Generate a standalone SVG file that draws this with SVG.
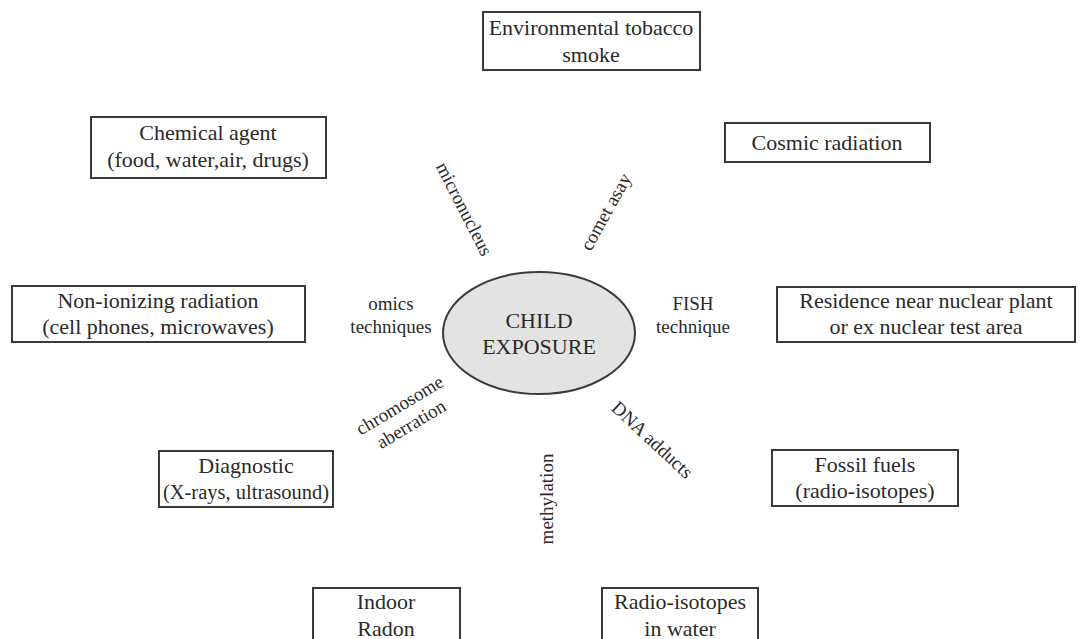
<svg xmlns="http://www.w3.org/2000/svg" width="1086" height="639" viewBox="0 0 1086 639">
<style>
.box{fill:#fff;stroke:#3a3a3a;stroke-width:2}
.t{font-family:"Liberation Serif","Times New Roman",serif;font-size:22px;fill:#2a2a2a;text-anchor:middle}
.l{font-family:"Liberation Serif","Times New Roman",serif;font-size:19px;fill:#2a2a2a;text-anchor:middle}
</style>
<rect width="1086" height="639" fill="#fff"/>
<g id="center">
<ellipse cx="539" cy="333" rx="96" ry="61" fill="#e3e3e3" stroke="#3a3a3a" stroke-width="2"/>
<text class="t" x="539" y="328">CHILD</text>
<text class="t" x="539" y="354">EXPOSURE</text>
</g>
<g id="n-tobacco"><rect class="box" x="483" y="12" width="217" height="58"/><text class="t" x="591" y="35">Environmental tobacco</text><text class="t" x="591" y="62">smoke</text></g>
<g id="n-chemical"><rect class="box" x="91" y="117" width="235" height="61"/><text class="t" x="208" y="140">Chemical agent</text><text class="t" x="208" y="167">(food, water,air, drugs)</text></g>
<g id="n-cosmic"><rect class="box" x="725" y="123" width="205" height="39"/><text class="t" x="827" y="150">Cosmic radiation</text></g>
<g id="n-nonion"><rect class="box" x="12" y="286" width="293" height="56"/><text class="t" x="158" y="308">Non-ionizing radiation</text><text class="t" x="158" y="334">(cell phones, microwaves)</text></g>
<g id="n-residence"><rect class="box" x="777" y="287" width="298" height="55"/><text class="t" x="926" y="308">Residence near nuclear plant</text><text class="t" x="926" y="334">or ex nuclear test area</text></g>
<g id="n-diagnostic"><rect class="box" x="159" y="451" width="174" height="56"/><text class="t" x="246" y="473">Diagnostic</text><text class="t" x="246" y="499" style="font-size:20.5px">(X-rays, ultrasound)</text></g>
<g id="n-fossil"><rect class="box" x="772" y="450" width="186" height="56"/><text class="t" x="865" y="472">Fossil fuels</text><text class="t" x="865" y="498">(radio-isotopes)</text></g>
<g id="n-radon"><rect class="box" x="313" y="588" width="147" height="60"/><text class="t" x="386" y="609">Indoor</text><text class="t" x="386" y="636">Radon</text></g>
<g id="n-water"><rect class="box" x="602" y="588" width="156" height="60"/><text class="t" x="680" y="609">Radio-isotopes</text><text class="t" x="680" y="636">in water</text></g>
<g id="labels">
<text class="l" x="391" y="310">omics</text><text class="l" x="391" y="333">techniques</text>
<text class="l" x="693" y="310">FISH</text><text class="l" x="693" y="333">technique</text>
<text class="l" transform="translate(464,209) rotate(63)" y="6">micronucleus</text>
<text class="l" transform="translate(606,212) rotate(-61)" y="6">comet asay</text>
<text class="l" transform="translate(405,414) rotate(-31)"><tspan x="0" y="-4">chromosome</tspan><tspan x="0" y="18">aberration</tspan></text>
<text class="l" transform="translate(547,499) rotate(-90)" y="6">methylation</text>
<text class="l" transform="translate(652,440) rotate(43)" y="6">DNA adducts</text>
</g>
</svg>
